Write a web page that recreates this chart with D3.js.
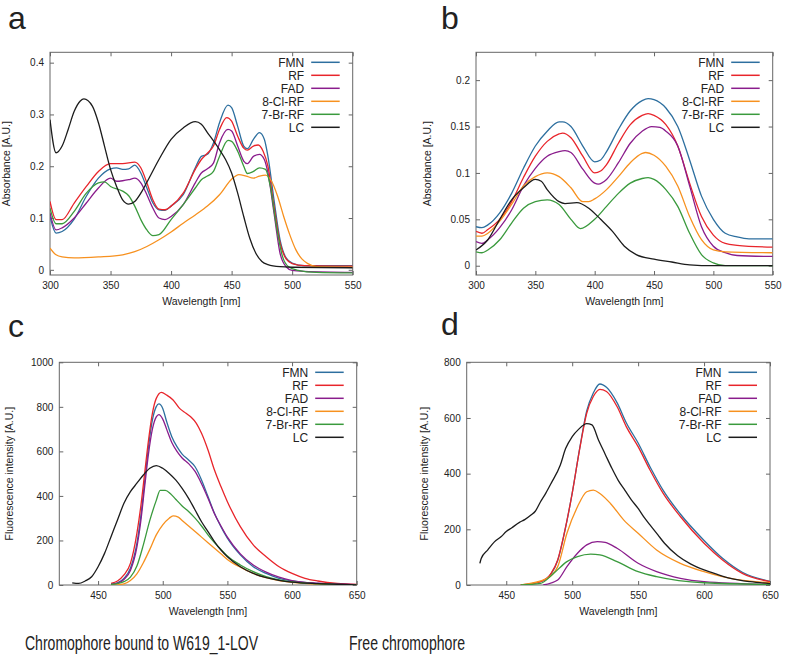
<!DOCTYPE html>
<html>
<head>
<meta charset="utf-8">
<script src="https://cdn.jsdelivr.net/npm/d3@7"></script>
<style>
  body { margin: 0; background: #fff; }
  text { font-family: "Liberation Sans", Arial, sans-serif; fill: #222; }
</style>
</head>
<body>
<div id="vis-holder"></div>
<script>
// Series names and colours (same order in every panel)
const seriesNames = ["FMN", "RF", "FAD", "8-Cl-RF", "7-Br-RF", "LC"];
const seriesColors = ["#2d6f9f", "#e8252b", "#8a1c8c", "#f7911f", "#3a9a3d", "#1c1c1c"];

// Tick values
const absTicksX = [300, 350, 400, 450, 500, 550];
const absTicksYa = [0, 0.1, 0.2, 0.3, 0.4];
const absTicksYb = [0, 0.05, 0.1, 0.15, 0.2];
const fluTicksX = [450, 500, 550, 600, 650];
const fluTicksYc = [0, 200, 400, 600, 800, 1000];
const fluTicksYd = [0, 200, 400, 600, 800];

// Panel a: absorbance, chromophore bound to W619_1-LOV  [wavelength, absorbance]
const absBoundFMN = [[300,0.103],[305,0.071],[310,0.074],[320,0.098],[330,0.142],[340,0.177],[350,0.195],[355,0.197],[360,0.194],[365,0.195],[370,0.202],[375,0.187],[380,0.158],[385,0.129],[390,0.116],[395,0.115],[400,0.123],[410,0.145],[420,0.197],[425,0.219],[430,0.223],[435,0.245],[440,0.284],[447,0.318],[450,0.313],[455,0.277],[460,0.239],[463,0.234],[468,0.252],[473,0.265],[477,0.252],[480,0.219],[485,0.135],[490,0.058],[495,0.023],[500,0.013],[510,0.008],[550,0.008]];
const absBoundRF = [[300,0.132],[305,0.097],[310,0.097],[320,0.129],[330,0.161],[340,0.190],[350,0.205],[360,0.205],[370,0.208],[375,0.197],[380,0.168],[385,0.135],[390,0.117],[395,0.116],[400,0.123],[410,0.148],[420,0.194],[425,0.213],[430,0.225],[435,0.239],[440,0.271],[446,0.294],[450,0.287],[455,0.258],[460,0.235],[463,0.231],[468,0.239],[472,0.241],[476,0.229],[480,0.200],[485,0.123],[490,0.052],[495,0.021],[500,0.012],[510,0.008],[550,0.007]];
const absBoundFAD = [[300,0.110],[305,0.077],[310,0.081],[320,0.100],[330,0.129],[340,0.158],[350,0.177],[355,0.171],[360,0.172],[365,0.174],[370,0.177],[375,0.168],[380,0.145],[385,0.119],[390,0.100],[395,0.097],[400,0.103],[410,0.126],[420,0.168],[425,0.187],[430,0.195],[435,0.206],[440,0.245],[447,0.271],[450,0.268],[455,0.239],[460,0.210],[463,0.205],[468,0.219],[473,0.223],[477,0.213],[480,0.187],[485,0.110],[490,0.032],[495,0.006],[500,-0.001],[510,-0.003],[550,-0.005]];
const absBoundClRF = [[300,0.042],[305,0.029],[310,0.025],[320,0.023],[340,0.025],[360,0.029],[370,0.035],[380,0.045],[390,0.058],[400,0.073],[410,0.090],[420,0.106],[430,0.123],[440,0.145],[450,0.175],[456,0.184],[462,0.181],[468,0.177],[473,0.181],[478,0.183],[483,0.171],[488,0.142],[493,0.103],[498,0.068],[503,0.039],[508,0.021],[513,0.012],[520,0.006],[550,0.005]];
const absBoundBrRF = [[300,0.119],[305,0.089],[310,0.089],[320,0.113],[330,0.148],[340,0.168],[345,0.170],[350,0.161],[360,0.152],[365,0.143],[370,0.123],[375,0.097],[380,0.077],[385,0.066],[390,0.068],[400,0.097],[410,0.126],[420,0.158],[425,0.174],[430,0.181],[435,0.190],[440,0.219],[447,0.250],[450,0.248],[455,0.229],[460,0.200],[463,0.186],[468,0.190],[473,0.197],[478,0.194],[482,0.161],[487,0.084],[492,0.026],[497,0.006],[505,-0.001],[520,-0.005],[550,-0.006]];
const absBoundLC = [[300,0.290],[305,0.226],[310,0.239],[315,0.271],[320,0.306],[325,0.326],[328,0.330],[335,0.316],[340,0.284],[345,0.239],[350,0.194],[355,0.161],[360,0.135],[365,0.127],[370,0.132],[375,0.148],[380,0.169],[390,0.213],[400,0.252],[410,0.274],[420,0.286],[425,0.281],[430,0.265],[440,0.232],[445,0.213],[450,0.187],[455,0.148],[460,0.103],[465,0.061],[470,0.032],[475,0.016],[480,0.010],[490,0.006],[500,0.005],[550,0.004]];

// Panel b: absorbance, free chromophore
const absFreeFMN = [[300,0.042],[305,0.041],[310,0.044],[320,0.057],[330,0.078],[340,0.105],[350,0.129],[360,0.145],[370,0.155],[373,0.155],[380,0.150],[390,0.129],[400,0.112],[405,0.114],[410,0.123],[420,0.147],[430,0.167],[440,0.178],[445,0.180],[450,0.179],[460,0.170],[470,0.150],[480,0.114],[490,0.075],[500,0.050],[510,0.035],[520,0.031],[530,0.029],[550,0.029]];
const absFreeRF = [[300,0.037],[305,0.035],[310,0.039],[320,0.050],[330,0.069],[340,0.095],[350,0.118],[360,0.134],[370,0.142],[373,0.143],[380,0.138],[390,0.118],[400,0.100],[405,0.102],[410,0.109],[420,0.132],[430,0.152],[440,0.162],[445,0.164],[450,0.162],[460,0.152],[470,0.129],[480,0.089],[490,0.053],[500,0.033],[510,0.024],[520,0.022],[550,0.020]];
const absFreeFAD = [[300,0.026],[305,0.024],[310,0.028],[320,0.041],[330,0.060],[340,0.086],[350,0.105],[360,0.118],[370,0.123],[375,0.124],[380,0.122],[390,0.104],[400,0.089],[403,0.088],[410,0.093],[420,0.111],[430,0.132],[440,0.145],[448,0.150],[455,0.149],[460,0.145],[470,0.129],[480,0.086],[490,0.042],[500,0.021],[510,0.014],[520,0.011],[550,0.010]];
const absFreeClRF = [[300,0.032],[305,0.032],[310,0.035],[320,0.048],[330,0.066],[340,0.086],[350,0.096],[360,0.100],[365,0.099],[370,0.096],[380,0.084],[390,0.069],[395,0.069],[400,0.072],[410,0.082],[420,0.096],[430,0.111],[440,0.121],[443,0.122],[450,0.119],[460,0.107],[470,0.086],[480,0.053],[490,0.028],[500,0.017],[510,0.015],[550,0.014]];
const absFreeBrRF = [[300,0.015],[305,0.014],[310,0.017],[320,0.028],[330,0.046],[340,0.062],[350,0.069],[360,0.071],[370,0.066],[380,0.050],[388,0.040],[400,0.050],[410,0.064],[420,0.078],[430,0.089],[440,0.094],[445,0.095],[450,0.093],[460,0.082],[470,0.064],[480,0.035],[490,0.012],[500,0.003],[510,0.000],[550,0.000]];
const absFreeLC = [[300,0.017],[310,0.028],[320,0.050],[330,0.071],[340,0.084],[350,0.093],[355,0.091],[360,0.082],[370,0.069],[375,0.067],[385,0.068],[395,0.062],[405,0.050],[415,0.037],[425,0.021],[435,0.012],[450,0.007],[465,0.004],[480,0.001],[500,0.000],[550,0.000]];

// Panel c: fluorescence, chromophore bound to W619_1-LOV  [wavelength, intensity]
const fluBoundFMN = [[460,4],[465,10],[470,30],[475,75],[480,187],[483,307],[486,464],[489,621],[492,741],[495,801],[497,813],[500,793],[503,734],[507,666],[511,621],[515,588],[520,561],[525,531],[530,472],[535,397],[540,322],[545,262],[550,210],[560,135],[570,82],[580,52],[590,30],[600,18],[620,7],[650,1]];
const fluBoundRF = [[460,7],[465,18],[470,45],[475,97],[480,232],[483,352],[486,501],[489,651],[492,771],[495,838],[499,865],[503,853],[508,831],[513,793],[518,771],[522,753],[526,726],[530,681],[535,606],[540,516],[545,442],[550,374],[560,262],[570,180],[580,127],[590,82],[600,52],[610,30],[620,18],[635,7],[650,3]];
const fluBoundFAD = [[460,3],[465,8],[470,25],[475,65],[480,170],[483,285],[486,440],[489,590],[492,700],[495,755],[497,765],[500,745],[503,700],[507,640],[511,600],[515,570],[520,545],[525,510],[530,455],[535,390],[540,320],[545,265],[550,215],[560,140],[570,90],[580,58],[590,35],[600,20],[620,8],[650,2]];
const fluBoundClRF = [[460,0],[465,1],[470,5],[475,20],[480,50],[485,100],[490,160],[495,225],[500,270],[505,300],[508,310],[512,305],[515,290],[520,265],[525,240],[530,215],[535,190],[540,165],[545,140],[550,115],[560,80],[570,52],[580,33],[590,20],[600,12],[620,4],[650,1]];
const fluBoundBrRF = [[460,3],[465,6],[470,15],[475,35],[480,85],[485,180],[490,290],[495,380],[498,425],[502,425],[506,410],[510,385],[515,355],[520,330],[525,300],[530,265],[535,225],[540,190],[545,160],[550,130],[560,90],[570,60],[580,38],[590,23],[600,14],[620,5],[650,1]];
const fluBoundLC = [[430,10],[435,7],[440,18],[445,37],[450,82],[455,142],[460,217],[465,292],[470,367],[475,419],[480,457],[485,494],[490,524],[495,536],[500,524],[505,501],[510,472],[515,434],[520,389],[525,337],[530,284],[535,240],[540,195],[545,157],[550,127],[560,82],[570,52],[580,33],[590,21],[600,13],[620,6],[650,1]];

// Panel d: fluorescence, free chromophore
const fluFreeFMN = [[461,0],[476,12],[484,40],[489,88],[494,185],[500,330],[506,500],[511,625],[516,690],[521,722],[526,710],[534,655],[541,583],[550,510],[559,425],[569,340],[582,255],[600,160],[614,96],[629,46],[650,13]];
const fluFreeRF = [[461,0],[476,12],[484,42],[489,90],[494,186],[500,329],[506,497],[511,617],[516,677],[521,703],[526,695],[534,641],[541,569],[550,497],[559,413],[569,329],[582,246],[600,150],[614,90],[629,42],[650,12]];
const fluFreeFAD = [[478,0],[489,18],[496,66],[504,114],[511,144],[519,156],[525,153],[534,132],[550,78],[564,48],[582,24],[600,12],[650,2]];
const fluFreeClRF = [[461,0],[481,24],[489,66],[496,186],[504,281],[511,335],[516,341],[521,329],[529,293],[539,234],[550,186],[564,126],[582,78],[600,48],[624,20],[650,8]];
const fluFreeBrRF = [[461,0],[476,6],[486,42],[496,84],[504,102],[514,111],[521,108],[534,84],[550,48],[564,30],[600,8],[650,2]];
const fluFreeLC = [[430,78],[431,95],[436,126],[441,155],[446,173],[450,192],[454,205],[460,225],[464,235],[469,252],[472,265],[476,299],[480,330],[484,365],[491,431],[495,490],[500,533],[505,560],[511,580],[515,575],[520,520],[525,470],[530,420],[535,375],[540,340],[545,305],[550,275],[555,240],[560,210],[565,180],[570,150],[580,105],[590,75],[600,54],[610,38],[620,24],[635,12],[650,5]];

const width = 787;
const height = 666;

const svg = d3.select("#vis-holder")
              .append("svg")
              .attr("width", width)
              .attr("height", height);

svg.append("rect").attr("width", width).attr("height", height).attr("fill", "#fff");

// panel layouts
const panels = [
  { letter: "a", lx: 8, ly: 29, left: 50, right: 352.7, top: 52.3, bottom: 275,
    xDomain: [300, 550], yDomain: [-0.01, 0.42], xTicks: absTicksX, yTicks: absTicksYa,
    yLabel: "Absorbance [A.U.]", yLabelX: 10,
    data: [absBoundFMN, absBoundRF, absBoundFAD, absBoundClRF, absBoundBrRF, absBoundLC] },
  { letter: "b", lx: 441, ly: 29, left: 476, right: 772.7, top: 52.3, bottom: 275,
    xDomain: [300, 550], yDomain: [-0.01, 0.23], xTicks: absTicksX, yTicks: absTicksYb,
    yLabel: "Absorbance [A.U.]", yLabelX: 431,
    data: [absFreeFMN, absFreeRF, absFreeFAD, absFreeClRF, absFreeBrRF, absFreeLC] },
  { letter: "c", lx: 8, ly: 337, left: 59.3, right: 356.7, top: 362.3, bottom: 585,
    xDomain: [420, 650], yDomain: [0, 1000], xTicks: fluTicksX, yTicks: fluTicksYc,
    yLabel: "Fluorescence intensity [A.U.]", yLabelX: 13,
    data: [fluBoundFMN, fluBoundRF, fluBoundFAD, fluBoundClRF, fluBoundBrRF, fluBoundLC] },
  { letter: "d", lx: 441, ly: 335, left: 466.7, right: 770, top: 362.3, bottom: 585,
    xDomain: [420, 650], yDomain: [0, 800], xTicks: fluTicksX, yTicks: fluTicksYd,
    yLabel: "Fluorescence intensity [A.U.]", yLabelX: 428,
    data: [fluFreeFMN, fluFreeRF, fluFreeFAD, fluFreeClRF, fluFreeBrRF, fluFreeLC] }
];

panels.forEach((p, pi) => {
  const x = d3.scaleLinear().domain(p.xDomain).range([p.left, p.right]);
  const y = d3.scaleLinear().domain(p.yDomain).range([p.bottom, p.top]);
  const g = svg.append("g");

  // clip so lines stay inside the frame
  const clipId = "clip" + pi;
  g.append("clipPath").attr("id", clipId)
    .append("rect")
    .attr("x", p.left).attr("y", p.top)
    .attr("width", p.right - p.left).attr("height", p.bottom - p.top);

  // ticks, gnuplot style: inside, mirrored
  const fmt = (d) => String(d);
  const styleAxis = (a) => {
    a.select(".domain").remove();
    a.selectAll("line").attr("stroke", "#666");
    a.selectAll("text").attr("font-size", "10px").attr("fill", "#222")
      .attr("font-family", "Liberation Sans, Arial, sans-serif");
  };
  g.append("g").attr("transform", `translate(0,${p.bottom})`)
    .call(d3.axisBottom(x).tickValues(p.xTicks).tickFormat(fmt).tickSize(-4).tickPadding(7))
    .call(styleAxis);
  g.append("g").attr("transform", `translate(0,${p.top})`)
    .call(d3.axisTop(x).tickValues(p.xTicks).tickFormat("").tickSize(-4))
    .call(styleAxis);
  g.append("g").attr("transform", `translate(${p.left},0)`)
    .call(d3.axisLeft(y).tickValues(p.yTicks).tickFormat(fmt).tickSize(-4).tickPadding(6))
    .call(styleAxis);
  g.append("g").attr("transform", `translate(${p.right},0)`)
    .call(d3.axisRight(y).tickValues(p.yTicks).tickFormat("").tickSize(-4))
    .call(styleAxis);

  // frame
  g.append("rect")
    .attr("x", p.left).attr("y", p.top)
    .attr("width", p.right - p.left).attr("height", p.bottom - p.top)
    .attr("fill", "none").attr("stroke", "#666").attr("stroke-width", 1);

  // lines
  const line = d3.line()
    .x((d) => x(d[0]))
    .y((d) => y(d[1]))
    .curve(d3.curveMonotoneX);

  g.append("g").attr("clip-path", `url(#${clipId})`)
    .selectAll("path")
    .data(p.data)
    .enter()
      .append("path")
      .attr("d", line)
      .attr("fill", "none")
      .attr("stroke", (d, i) => seriesColors[i])
      .attr("stroke-width", 1.3);

  // legend
  const leg = g.append("g");
  seriesNames.forEach((name, i) => {
    const ry = p.top + 10 + i * 13;
    leg.append("text")
      .attr("x", p.right - 48.5).attr("y", ry)
      .attr("dy", "0.35em")
      .attr("text-anchor", "end")
      .attr("font-size", "12px")
      .text(name);
    leg.append("line")
      .attr("x1", p.right - 41.5).attr("x2", p.right - 13)
      .attr("y1", ry).attr("y2", ry)
      .attr("stroke", seriesColors[i])
      .attr("stroke-width", 1.5);
  });

  // axis labels
  g.append("text")
    .attr("x", (p.left + p.right) / 2).attr("y", p.bottom + 30)
    .attr("text-anchor", "middle")
    .attr("font-size", "10.5px")
    .text("Wavelength [nm]");
  g.append("text")
    .attr("transform", `translate(${p.yLabelX},${(p.top + p.bottom) / 2}) rotate(-90)`)
    .attr("text-anchor", "middle")
    .attr("font-size", "10.5px")
    .text(p.yLabel);

  // panel letter
  g.append("text")
    .attr("x", p.lx).attr("y", p.ly)
    .attr("font-size", "32px")
    .attr("fill", "#111")
    .text(p.letter);
});

// captions under the columns
svg.append("text")
  .attr("x", 25).attr("y", 650)
  .attr("font-size", "19.5px")
  .attr("textLength", 233).attr("lengthAdjust", "spacingAndGlyphs")
  .text("Chromophore bound to W619_1-LOV");
svg.append("text")
  .attr("x", 349).attr("y", 650)
  .attr("font-size", "19.5px")
  .attr("textLength", 116).attr("lengthAdjust", "spacingAndGlyphs")
  .text("Free chromophore");
</script>
</body>
</html>
